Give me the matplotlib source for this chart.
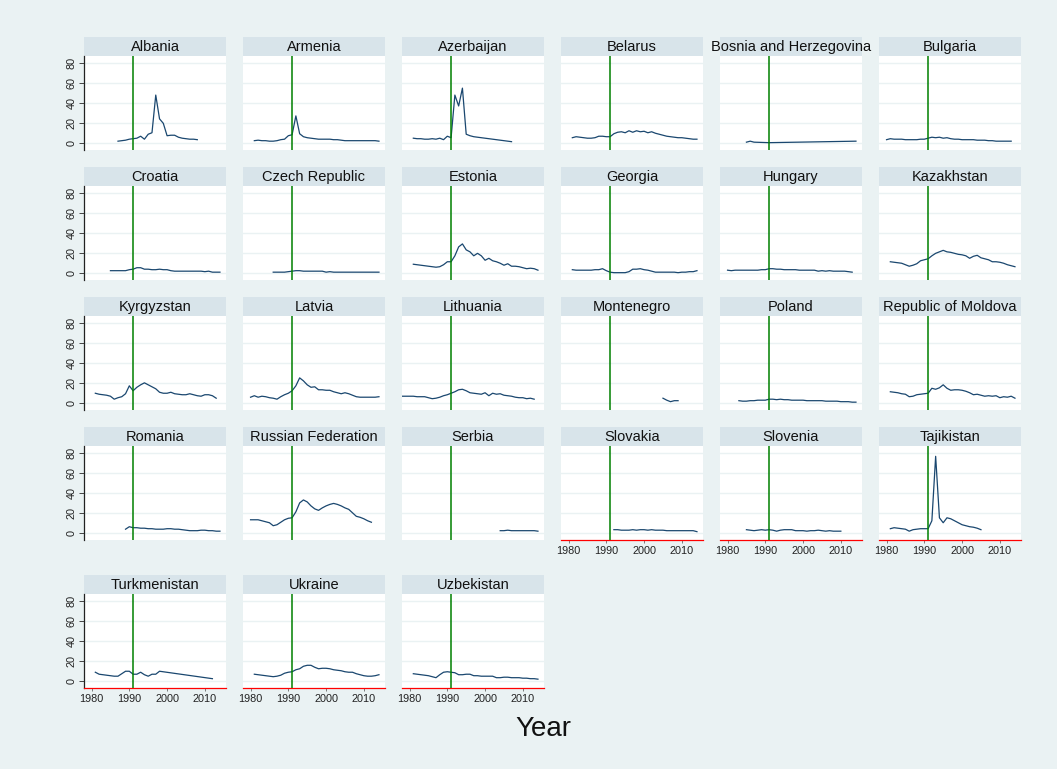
import matplotlib
matplotlib.use("Agg")
import matplotlib.pyplot as plt

# indicator by country, year on x; xline at 1991
countries = [
    "Albania", "Armenia", "Azerbaijan", "Belarus", "Bosnia and Herzegovina", "Bulgaria",
    "Croatia", "Czech Republic", "Estonia", "Georgia", "Hungary", "Kazakhstan",
    "Kyrgyzstan", "Latvia", "Lithuania", "Montenegro", "Poland", "Republic of Moldova",
    "Romania", "Russian Federation", "Serbia", "Slovakia", "Slovenia", "Tajikistan",
    "Turkmenistan", "Ukraine", "Uzbekistan",
]

# first year of each yearly series
start_year = {
    "Albania": 1987, "Armenia": 1981, "Azerbaijan": 1981, "Belarus": 1981,
    "Bulgaria": 1980, "Croatia": 1985, "Czech Republic": 1986, "Estonia": 1981,
    "Georgia": 1981, "Hungary": 1980, "Kazakhstan": 1981, "Kyrgyzstan": 1981,
    "Latvia": 1980, "Lithuania": 1978, "Montenegro": 2005, "Poland": 1983,
    "Republic of Moldova": 1981, "Romania": 1989, "Russian Federation": 1980,
    "Serbia": 2004, "Slovakia": 1992, "Slovenia": 1985, "Tajikistan": 1981,
    "Ukraine": 1981, "Uzbekistan": 1981,
}

# series with missing years carry their own year list
gap_years = {
    "Bosnia and Herzegovina": [1985, 1986, 1987, 1991, 2014],
    "Turkmenistan": [1981, 1982, 1983, 1984, 1985, 1986, 1987, 1988, 1989, 1990,
                     1991, 1992, 1993, 1994, 1995, 1996, 1997, 1998, 2012],
}

values = {
    "Albania": [1.5, 2, 2.5, 3.5, 4, 4.5, 6.5, 3.5, 8.5, 10, 48, 24, 19.5, 7, 7.5, 7.5,
                5.5, 4.5, 4, 3.5, 3.5, 3],
    "Armenia": [2, 2.5, 2, 2, 1.5, 1.5, 2, 3, 3.5, 7, 8, 27, 9, 6, 5, 4.5, 4, 3.5, 3.5,
                3.5, 3.5, 3, 3, 2.5, 2, 2, 2, 2, 2, 2, 2, 2, 2, 1.5],
    "Azerbaijan": [4.5, 4, 4, 3.5, 3.5, 4, 3.5, 4.5, 3, 6.5, 5, 48, 37, 55, 8.5, 7, 6,
                   5.5, 5, 4.5, 4, 3.5, 3, 2.5, 2, 1.5, 1],
    "Belarus": [5, 6, 5.5, 5, 4.5, 4.5, 5, 6.5, 6.5, 6, 6, 9, 10.5, 11, 10, 12, 10.5, 12,
                11, 11.5, 10, 11, 9.5, 8.5, 7.5, 6.5, 6, 5.5, 5, 5, 4.5, 4, 3.5, 3.5],
    "Bosnia and Herzegovina": [0.5, 1.5, 0.5, 0, 1.5],
    "Bulgaria": [3, 4, 3.5, 3.5, 3.5, 3, 3, 3, 3, 3.5, 3.5, 4.5, 5.5, 5, 5.5, 4.5, 5, 4,
                 3.5, 3.5, 3, 3, 3, 3, 2.5, 2.5, 2.5, 2, 2, 1.5, 1.5, 1.5, 1.5, 1.5],
    "Croatia": [2, 2, 2, 2, 2, 3, 3.5, 5, 5, 3.5, 3.5, 3, 3, 3.5, 3, 3, 2, 1.5, 1.5, 1.5,
                1.5, 1.5, 1.5, 1.5, 1.5, 1, 1.5, 0.5, 0.5, 0.5],
    "Czech Republic": [0.5, 0.5, 0.5, 0.5, 1, 1.5, 2, 2, 1.5, 1.5, 1.5, 1.5, 1.5, 1.5,
                       0.5, 1, 0.5, 0.5, 0.5, 0.5, 0.5, 0.5, 0.5, 0.5, 0.5, 0.5, 0.5,
                       0.5, 0.5],
    "Estonia": [8.5, 8, 7.5, 7, 6.5, 6, 5.5, 6, 8, 11, 11, 17, 26, 29, 23, 21, 17, 19.5,
                17, 12.5, 14.5, 12, 11, 9.5, 7.5, 9, 6.5, 6.5, 6, 5, 4, 4.5, 4, 2.5],
    "Georgia": [3, 2.5, 2.5, 2.5, 2.5, 2.5, 3, 3, 4, 2, 0.5, 0, 0, 0, 0, 1, 3.5, 3.5, 4,
                3, 2.5, 1.5, 0.5, 0.5, 0.5, 0.5, 0.5, 0.5, 0, 0.5, 0.5, 1, 1, 2],
    "Hungary": [2.5, 2, 2.5, 2.5, 2.5, 2.5, 2.5, 2.5, 2.5, 3, 3, 4, 4, 3.5, 3.5, 3, 3, 3,
                3, 2.5, 2.5, 2.5, 2.5, 2.5, 1.5, 2, 1.5, 2, 1.5, 1.5, 1.5, 1.5, 1, 0.5],
    "Kazakhstan": [11, 10.5, 10, 9.5, 8, 6.5, 7.5, 9, 12, 13, 14, 17, 19.5, 21, 22.5, 21,
                   20.5, 19.5, 18.5, 18, 17, 14.5, 16.5, 17.5, 15, 14, 13, 11, 11, 10.5,
                   9.5, 8, 7, 6],
    "Kyrgyzstan": [9.5, 8.5, 8, 7.5, 6.5, 3.5, 5, 6, 9, 17, 12, 15.5, 18, 20, 18, 16, 14,
                   10.5, 9.5, 9.5, 10.5, 9, 8.5, 8, 8, 9, 8, 7, 6.5, 8, 8, 7, 4.5],
    "Latvia": [5.5, 7, 5.5, 6.5, 6, 5, 4.5, 3.5, 6, 8, 9.5, 12, 17, 25, 22, 18, 15.5, 16,
               13, 13, 12.5, 12.5, 11, 10, 9, 10, 9, 7.5, 6, 5.5, 5.5, 5.5, 5.5, 5.5, 6],
    "Lithuania": [6.5, 6.5, 6.5, 6.5, 6, 6, 6, 5, 4, 4.5, 5.5, 7, 8, 9.5, 11, 13, 13.5,
                  12, 10, 9.5, 9, 8.5, 10, 7, 9.5, 8.5, 9, 7.5, 7, 6.5, 5.5, 5, 5, 4, 4.5,
                  3.5],
    "Montenegro": [4.5, 2.5, 1, 2, 2],
    "Poland": [2, 1.5, 1.5, 2, 2, 2.5, 2.5, 2.5, 3.5, 3.5, 3, 3.5, 3, 3, 2.5, 2.5, 2.5,
               2.5, 2, 2, 2, 2, 2, 1.5, 1.5, 1.5, 1.5, 1, 1, 1, 0.5, 0.5],
    "Republic of Moldova": [11, 10.5, 10, 9, 8.5, 6, 6.5, 8, 8.5, 9, 9.5, 14.5, 13.5, 15,
                            18, 14.5, 12.5, 13, 13, 12.5, 11.5, 10, 8, 8.5, 7.5, 6.5, 7,
                            6.5, 7, 5, 6, 5.5, 6.5, 4.5],
    "Romania": [3.5, 6, 5, 5, 4.5, 4.5, 4, 4, 3.5, 3.5, 3.5, 4, 4, 3.5, 3.5, 3, 2.5, 2, 2,
                2, 2.5, 2.5, 2, 2, 1.5, 1.5],
    "Russian Federation": [13, 13, 13, 12, 11, 10, 7, 8, 10.5, 13, 14.5, 15, 21, 30, 33,
                           31, 27, 24, 22.5, 25, 27, 28.5, 29.5, 28.5, 27, 25, 23.5, 20,
                           16.5, 15.5, 14, 12, 10.5],
    "Serbia": [2, 2, 2.5, 2, 2, 2, 2, 2, 2, 2, 1.5],
    "Slovakia": [3, 3, 2.5, 2.5, 2.5, 3, 2.5, 3, 3, 2.5, 3, 2.5, 2.5, 2.5, 2, 2, 2, 2, 2,
                 2, 2, 2, 1],
    "Slovenia": [3, 2.5, 2, 2.5, 3, 2.5, 3, 2.5, 1.5, 2.5, 3, 3, 3, 2, 2, 2, 1.5, 2, 2,
                 2.5, 2, 1.5, 2, 1.5, 1.5, 1.5],
    "Tajikistan": [4, 5, 4.5, 4, 3.5, 1.5, 3, 3.5, 4, 4, 4, 12, 77, 15, 10, 15, 14, 12,
                   10, 8, 7, 6, 5.5, 4.5, 3],
    "Turkmenistan": [8.5, 6.5, 6, 5.5, 5, 4.5, 4.5, 7, 9.5, 9.5, 6.5, 6.5, 8.5, 6, 4.5,
                     6.5, 6.5, 9.5, 2],
    "Ukraine": [6.5, 6, 5.5, 5, 4.5, 4, 4.5, 5.5, 7.5, 8.5, 9, 11, 12, 14.5, 15.5, 15.5,
                13.5, 12, 12.5, 12.5, 12, 11, 10.5, 10, 9, 8.5, 8.5, 7, 6, 5, 4.5, 4.5, 5,
                6],
    "Uzbekistan": [7, 6.5, 6, 5.5, 5, 4, 3, 6, 8.5, 9, 8.5, 8, 6, 6, 6.5, 6.5, 5, 5, 4.5,
                   4.5, 4.5, 4.5, 3, 3, 3.5, 3.5, 3, 3, 3, 2.5, 2.5, 2, 2, 1.5],
}

x_ticks = [1980, 1990, 2000, 2010]
y_ticks = [0, 20, 40, 60, 80]
event_year = 1991

BG = "#eaf2f3"
STRIP = "#d8e4ea"
NAVY = "#1a476f"

plt.rcParams["font.family"] = ["Liberation Sans", "DejaVu Sans"]

W, H = 1057, 769
fig = plt.figure(figsize=(W / 100, H / 100), dpi=100, facecolor=BG)


def px_axes(x0, y0, x1, y1, **kw):
    # rectangle given in pixels from the top-left corner
    return fig.add_axes([x0 / W, 1 - y1 / H, (x1 - x0) / W, (y1 - y0) / H], **kw)


col_left = [84 + 159 * i for i in range(6)]
panel_w = 142
row_top = [56, 186, 316, 446, 594]
panel_h = 94
strip_h = 19

ncol = 6
for k, name in enumerate(countries):
    r, c = divmod(k, ncol)
    x0 = col_left[c]
    y0 = row_top[r]

    # title strip
    st = px_axes(x0, y0 - strip_h, x0 + panel_w, y0, facecolor=STRIP)
    st.set_xticks([])
    st.set_yticks([])
    for s in st.spines.values():
        s.set_visible(False)
    st.text(0.5, 0.45, name, ha="center", va="center", fontsize=10.5,
            color="#111111", clip_on=False)

    ax = px_axes(x0, y0, x0 + panel_w, y0 + panel_h, facecolor="white")
    if name in gap_years:
        yrs = gap_years[name]
    else:
        yrs = list(range(start_year[name], start_year[name] + len(values[name])))
    ax.plot(yrs, values[name], color=NAVY, lw=0.9, zorder=3)
    ax.axvline(event_year, color="#008000", lw=1.1, zorder=4)

    ax.set_xlim(1978, 2015.6)
    ax.set_ylim(-7.4, 87.4)
    ax.set_yticks(y_ticks)
    ax.set_xticks(x_ticks)
    ax.grid(axis="y", color=BG, lw=1.0, zorder=0)
    ax.set_axisbelow(True)

    for s in ["top", "right"]:
        ax.spines[s].set_visible(False)

    # y axis only in the first column
    if c == 0:
        ax.spines["left"].set_color("#222222")
        ax.spines["left"].set_linewidth(0.9)
        ax.tick_params(axis="y", length=3.5, width=0.7, color="#444444",
                       labelsize=7.8, pad=2, labelcolor="#222222")
        for lab in ax.get_yticklabels():
            lab.set_rotation(90)
            lab.set_va("center")
    else:
        ax.spines["left"].set_visible(False)
        ax.tick_params(axis="y", length=0, labelleft=False)

    # x axis on the bottom panel of each column
    has_below = k + ncol < len(countries)
    if not has_below:
        ax.spines["bottom"].set_color("red")
        ax.spines["bottom"].set_linewidth(0.9)
        ax.tick_params(axis="x", length=2.5, width=0.6, color="#666666",
                       labelsize=7.8, pad=2, labelcolor="#222222")
    else:
        ax.spines["bottom"].set_visible(False)
        ax.tick_params(axis="x", length=0, labelbottom=False)

fig.text(543 / W, 1 - 729 / H, "Year", ha="center", va="center", fontsize=20,
         color="#111111")

fig.savefig("out.png", dpi=100, facecolor=BG)
